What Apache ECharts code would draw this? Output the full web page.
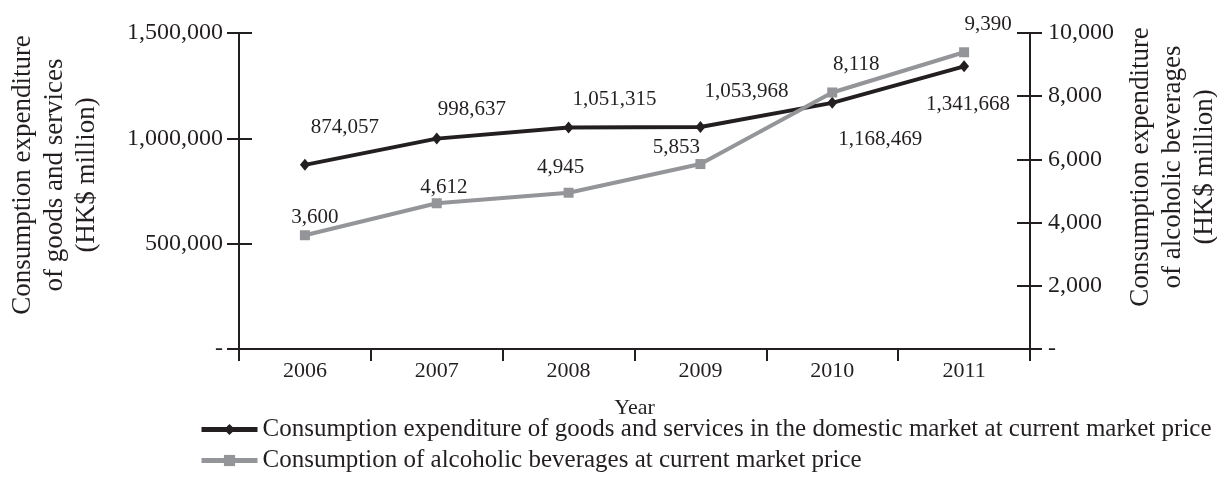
<!DOCTYPE html>
<html>
<head>
<meta charset="utf-8">
<script src="https://cdn.jsdelivr.net/npm/echarts@6/dist/echarts.min.js"></script>
<style>
  html, body { margin: 0; padding: 0; background: #ffffff; }
  #chart { width: 1217px; height: 495px; }
</style>
</head>
<body>
<div id="chart"></div>
<script>
// Years on the category axis
const years = ['2006', '2007', '2008', '2009', '2010', '2011'];

// Consumption expenditure of goods and services (HK$ million), left axis
const goodsServices = [874057, 998637, 1051315, 1053968, 1168469, 1341668];

// Consumption of alcoholic beverages (HK$ million), right axis
const alcoholic = [3600, 4612, 4945, 5853, 8118, 9390];

// Value-label offsets from each marker, [dx, dy] in pixels
const goodsLabelOffsets = [[40, -37], [35, -29], [46, -28], [46, -35], [48, 37], [4, 38]];
const alcoholLabelOffsets = [[10, -18], [7, -16], [-8, -25], [-24, -17], [24, -28], [24, -28]];

const INK = '#231f20';
const GREY = '#939598';
const SERIF = '"Liberation Serif", "Times New Roman", serif';

const fmt = v => (v === 0 ? '-' : v.toLocaleString('en-US'));

const chart = echarts.init(document.getElementById('chart'), null, { renderer: 'canvas' });

function yAxisBase(pos, max, interval) {
  return {
    type: 'value',
    position: pos,
    min: 0,
    max: max,
    interval: interval,
    splitLine: { show: false },
    axisLine: { show: true, lineStyle: { color: INK, width: 2 } },
    axisTick: { show: true, length: 12, lineStyle: { color: INK, width: 2 } },
    axisLabel: {
      show: true,
      formatter: fmt,
      color: INK,
      fontFamily: SERIF,
      fontSize: 24,
      margin: 16
    }
  };
}

// Inner halves of the y-axis ticks (ticks cross the axis line)
function innerTicks(pos, max, interval) {
  return {
    type: 'value',
    position: pos,
    min: 0,
    max: max,
    interval: interval,
    splitLine: { show: false },
    axisLine: { show: false },
    axisTick: { show: true, inside: true, length: 13, lineStyle: { color: INK, width: 2 } },
    axisLabel: { show: false }
  };
}

const leftAxis = Object.assign(yAxisBase('left', 1500000, 500000), {
  name: 'Consumption expenditure\nof goods and services\n(HK$ million)',
  nameLocation: 'middle',
  nameRotate: 90,
  nameGap: 136,
  nameTextStyle: {
    color: INK,
    fontFamily: SERIF,
    fontSize: 27,
    lineHeight: 32,
    align: 'center',
    padding: [0, 0, 0, 32]
  }
});

const rightAxis = Object.assign(yAxisBase('right', 10000, 2000), {
  name: 'Consumption expenditure\nof alcoholic beverages\n(HK$ million)',
  nameLocation: 'middle',
  nameRotate: 90,
  nameGap: 88,
  nameTextStyle: {
    color: INK,
    fontFamily: SERIF,
    fontSize: 27,
    lineHeight: 32,
    align: 'center',
    padding: [0, 0, 0, 48]
  }
});
rightAxis.axisLabel.margin = 18;

const option = {
  backgroundColor: '#ffffff',
  animation: false,
  grid: {
    left: 239, right: 187, top: 33, bottom: 146,
    containLabel: false,
    outerBoundsMode: 'none'
  },
  legend: {
    orient: 'vertical',
    left: 194,
    top: 412,
    itemWidth: 56,
    itemHeight: 14,
    itemGap: 6,
    lineStyle: { width: 5 },
    textStyle: { color: INK, fontFamily: SERIF, fontSize: 25 },
    data: [
      'Consumption expenditure of goods and services in the domestic market at current market price',
      'Consumption of alcoholic beverages at current market price'
    ]
  },
  xAxis: {
    type: 'category',
    data: years,
    boundaryGap: true,
    name: 'Year',
    nameLocation: 'middle',
    nameGap: 48,
    nameTextStyle: { color: INK, fontFamily: SERIF, fontSize: 22 },
    axisLine: { show: true, lineStyle: { color: INK, width: 2 } },
    axisTick: { show: true, length: 12, alignWithLabel: false, lineStyle: { color: INK, width: 2 } },
    axisLabel: { color: INK, fontFamily: SERIF, fontSize: 22, margin: 11 },
    splitLine: { show: false }
  },
  yAxis: [
    leftAxis,
    rightAxis,
    innerTicks('left', 1500000, 500000),
    innerTicks('right', 10000, 2000)
  ],
  series: [
    {
      name: 'Consumption expenditure of goods and services in the domestic market at current market price',
      type: 'line',
      yAxisIndex: 0,
      symbol: 'diamond',
      symbolSize: [10, 12],
      lineStyle: { color: INK, width: 4 },
      itemStyle: { color: INK },
      label: {
        show: true,
        position: 'inside',
        formatter: p => fmt(p.value),
        color: INK,
        fontFamily: SERIF,
        fontSize: 21
      },
      data: goodsServices.map((v, i) => ({ value: v, label: { offset: goodsLabelOffsets[i] } })),
      z: 3
    },
    {
      name: 'Consumption of alcoholic beverages at current market price',
      type: 'line',
      yAxisIndex: 1,
      symbol: 'rect',
      symbolSize: 10,
      lineStyle: { color: GREY, width: 4 },
      itemStyle: { color: GREY },
      label: {
        show: true,
        position: 'inside',
        formatter: p => fmt(p.value),
        color: INK,
        fontFamily: SERIF,
        fontSize: 21
      },
      data: alcoholic.map((v, i) => ({ value: v, label: { offset: alcoholLabelOffsets[i] } })),
      z: 4
    }
  ]
};

chart.setOption(option);
</script>
</body>
</html>
